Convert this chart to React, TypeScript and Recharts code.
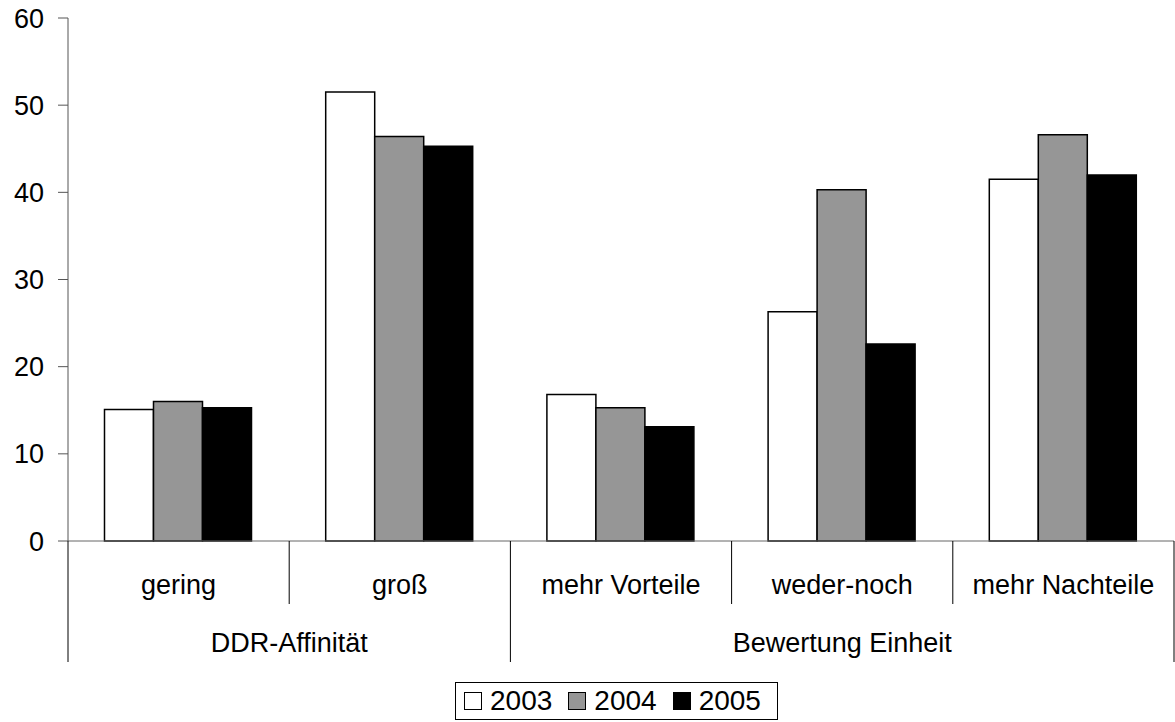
import React from 'react'
import { BarChart, Bar, XAxis, YAxis, Legend } from 'recharts'

const categories = ['gering', 'groß', 'mehr Vorteile', 'weder-noch', 'mehr Nachteile']
const groups = ['DDR-Affinität', 'DDR-Affinität', 'Bewertung Einheit', 'Bewertung Einheit', 'Bewertung Einheit']
const values2003 = [15.1, 51.5, 16.8, 26.3, 41.5]
const values2004 = [16.0, 46.4, 15.3, 40.3, 46.6]
const values2005 = [15.3, 45.3, 13.1, 22.6, 42.0]
const yTicks = [0, 10, 20, 30, 40, 50, 60]

const series = [
  { key: 'y2003', name: '2003', fill: '#ffffff' },
  { key: 'y2004', name: '2004', fill: '#969696' },
  { key: 'y2005', name: '2005', fill: '#000000' },
]

const data = categories.map((cat, i) => ({
  cat,
  group: groups[i],
  y2003: values2003[i],
  y2004: values2004[i],
  y2005: values2005[i],
}))

const W = 1175
const H = 722
const LEFT = 68
const RIGHT_M = 1
const FONT = 'Arial, "Liberation Sans", sans-serif'
const FS = 27
const BAND = (W - LEFT - RIGHT_M) / categories.length

function CategoryTick(props: any) {
  const { x, y, payload } = props
  const i = payload.index
  const leftX = x - BAND / 2
  const rightX = x + BAND / 2
  const groupStart = i === 0 || groups[i] !== groups[i - 1]
  const isLast = i === categories.length - 1
  // group label sits under the middle of its categories
  let label: React.ReactNode = null
  if (groupStart) {
    let n = 0
    while (i + n < groups.length && groups[i + n] === groups[i]) n++
    const cx = leftX + (n * BAND) / 2
    label = (
      <text x={cx} y={y + 111} textAnchor="middle" fontSize={FS} fontFamily={FONT} fill="#000">
        {groups[i]}
      </text>
    )
  }
  return (
    <g>
      <line x1={leftX} x2={leftX} y1={y} y2={y + (groupStart ? 121 : 63)} stroke="#000" strokeWidth={1} />
      {isLast && <line x1={rightX} x2={rightX} y1={y} y2={y + 121} stroke="#000" strokeWidth={1} />}
      <text x={x} y={y + 53} textAnchor="middle" fontSize={FS} fontFamily={FONT} fill="#000">
        {payload.value}
      </text>
      {label}
    </g>
  )
}

function LegendBox() {
  return (
    <div style={{ display: 'flex', justifyContent: 'center', paddingLeft: 59, height: 40 }}>
      <div
        style={{
          border: '1px solid #000',
          display: 'flex',
          alignItems: 'center',
          padding: '0 0 0 8px',
          height: 38,
          boxSizing: 'border-box',
          fontFamily: FONT,
          fontSize: 28,
        }}
      >
        {series.map((s) => (
          <span key={s.key} style={{ display: 'flex', alignItems: 'center', marginRight: 16 }}>
            <span
              style={{
                width: 16,
                height: 16,
                background: s.fill,
                border: '1px solid #000',
                marginRight: 8,
                display: 'inline-block',
              }}
            />
            {s.name}
          </span>
        ))}
      </div>
    </div>
  )
}

export default function App() {
  return (
    <div style={{ position: 'absolute', left: 0, top: 0, background: '#fff' }}>
      <BarChart
        width={W}
        height={H}
        data={data}
        margin={{ top: 18, right: RIGHT_M, left: 0, bottom: 0 }}
        barCategoryGap="16.5%"
        barGap={0}
      >
        <XAxis
          dataKey="cat"
          height={141}
          tickLine={false}
          tickSize={0}
          tickMargin={0}
          axisLine={{ stroke: '#666' }}
          tick={<CategoryTick />}
          interval={0}
        />
        <XAxis xAxisId="top" dataKey="cat" orientation="top" height={0} tick={false} tickLine={false} axisLine={{ stroke: '#999' }} />
        <YAxis
          domain={[0, 60]}
          ticks={yTicks}
          width={LEFT}
          tickSize={10}
          tickMargin={14}
          axisLine={{ stroke: '#555' }}
          tickLine={{ stroke: '#555' }}
          tick={{ fill: '#000', fontSize: FS, fontFamily: FONT }}
        />
        <YAxis yAxisId="right" orientation="right" width={0} tick={false} tickLine={false} axisLine={{ stroke: '#999' }} />
        <Legend verticalAlign="bottom" height={40} content={() => <LegendBox />} />
        {series.map((s) => (
          <Bar
            key={s.key}
            dataKey={s.key}
            name={s.name}
            fill={s.fill}
            stroke="#000"
            strokeWidth={1.5}
            isAnimationActive={false}
          />
        ))}
      </BarChart>
    </div>
  )
}
